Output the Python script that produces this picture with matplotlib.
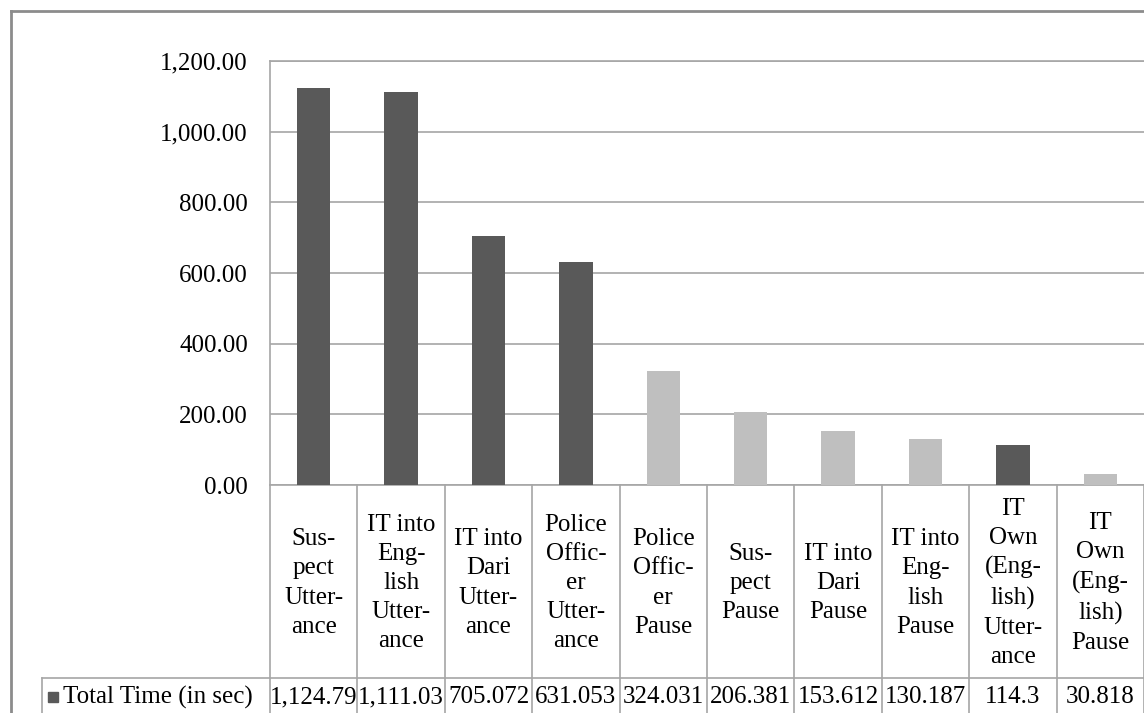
import matplotlib
matplotlib.use("Agg")
import matplotlib.pyplot as plt
from matplotlib.lines import Line2D
from matplotlib.patches import Rectangle

# data
categories = ["Sus-\npect\nUtter-\nance", "IT into\nEng-\nlish\nUtter-\nance",
              "IT into\nDari\nUtter-\nance", "Police\nOffic-\ner\nUtter-\nance",
              "Police\nOffic-\ner\nPause", "Sus-\npect\nPause", "IT into\nDari\nPause",
              "IT into\nEng-\nlish\nPause", "IT\nOwn\n(Eng-\nlish)\nUtter-\nance",
              "IT\nOwn\n(Eng-\nlish)\nPause"]
values = [1124.79, 1111.03, 705.072, 631.053, 324.031, 206.381, 153.612, 130.187, 114.3, 30.818]
value_labels = ["1,124.79", "1,111.03", "705.072", "631.053", "324.031", "206.381",
                "153.612", "130.187", "114.3", "30.818"]
is_utterance = [True, True, True, True, False, False, False, False, True, False]
series_name = "Total Time (in sec)"
yticks = [0, 200, 400, 600, 800, 1000, 1200]

W, H = 1144, 713
DARK, LIGHT, GRID = "#595959", "#bfbfbf", "#a6a6a6"
FONT = "Liberation Serif"
FS = 18

fig = plt.figure(figsize=(W / 100, H / 100), dpi=100)

def fx(px): return px / W
def fy(py): return 1 - py / H

# plot area
x0, x1, ytop, ybot = 270, 1144, 61, 485
ax = fig.add_axes([fx(x0), fy(ybot), fx(x1) - fx(x0), fy(ytop) - fy(ybot)])
n = len(values)
ax.set_xlim(0, n)
ax.set_ylim(0, 1200)
colors = [DARK if u else LIGHT for u in is_utterance]
ax.bar([i + 0.5 for i in range(n)], values, width=0.38, color=colors, zorder=3)
ax.set_yticks(yticks)
ax.set_yticklabels([f"{v:,.2f}" for v in yticks], fontfamily=FONT, fontsize=FS)
ax.tick_params(axis="y", length=0, pad=16)
ax.set_xticks([])
ax.yaxis.grid(True, color=GRID, lw=1.2, zorder=0)
for s in ["top", "left", "bottom"]:
    ax.spines[s].set_color(GRID)
    ax.spines[s].set_linewidth(1.2)
ax.spines["right"].set_visible(False)

# data table under the plot area
col_w = (x1 - x0) / n
row_y = 678
lc = dict(color=GRID, lw=1.2, transform=fig.transFigure)
fig.add_artist(Line2D([fx(42), fx(W)], [fy(row_y), fy(row_y)], **lc))
fig.add_artist(Line2D([fx(42), fx(42)], [fy(row_y), fy(H)], **lc))
for i in range(n + 1):
    xb = x0 + i * col_w
    fig.add_artist(Line2D([fx(xb), fx(xb)], [fy(ybot), fy(H)], **lc))
for i, (cat, lab) in enumerate(zip(categories, value_labels)):
    xc = x0 + (i + 0.5) * col_w
    fig.text(fx(xc), fy(583), cat, ha="center", va="center", family=FONT,
             fontsize=FS, linespacing=1.42)
    fig.text(fx(xc), fy(697), lab, ha="center", va="center", family=FONT, fontsize=FS)
fig.add_artist(Rectangle((fx(48), fy(702)), fx(10), fy(692) - fy(702), color=DARK,
                         transform=fig.transFigure))
fig.text(fx(63), fy(697), series_name, ha="left", va="center", family=FONT, fontsize=FS)

# outer chart frame
fc = dict(color="#8c8c8c", lw=2, transform=fig.transFigure)
fig.add_artist(Line2D([fx(11), fx(W)], [fy(11), fy(11)], **fc))
fig.add_artist(Line2D([fx(11), fx(11)], [fy(11), fy(H)], **fc))

fig.savefig("out.png", dpi=100)
